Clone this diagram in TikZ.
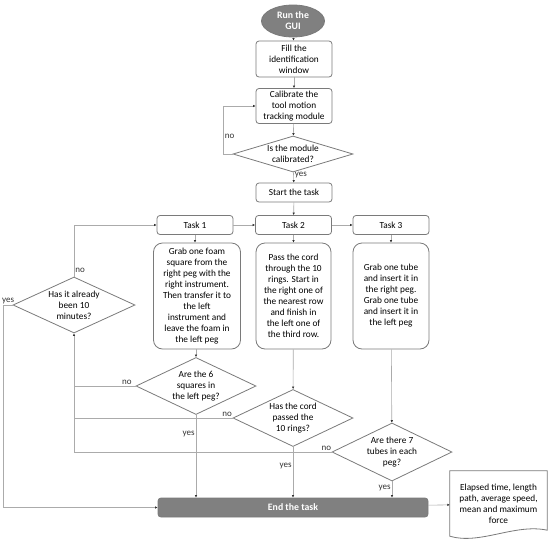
\documentclass[tikz,border=0pt]{standalone}
\usepackage{fontspec}
\setmainfont{Carlito}
\usetikzlibrary{shapes.geometric,arrows.meta}
\definecolor{edgegray}{HTML}{7A7A7A}
\definecolor{linegray}{HTML}{ABABAB}
\definecolor{darkbox}{HTML}{808080}
\tikzset{
	base/.style = {draw=edgegray, line width=0.8pt, font=\fontsize{9.3}{11}\selectfont, align=center, inner sep=1pt},
	stepbox/.style = {base, rounded corners=3pt, minimum width=76pt, minimum height=#1},
	taskbox/.style = {base, rounded corners=9pt, minimum height=106pt},
	darkbox/.style = {base, fill=darkbox, text=white, font=\fontsize{9.8}{11}\selectfont\bfseries},
	decision/.style = {base, diamond, minimum width=120pt, minimum height=#1, inner sep=0pt},
	dtext/.style = {font=\fontsize{9.3}{11}\selectfont, align=center},
	line/.style = {draw=linegray, line width=0.6pt},
	arr/.style = {line, -{Latex[length=2.5pt,width=2.5pt,color=black!80]}},
	lbl/.style = {font=\fontsize{9}{10}\selectfont, text=black!80, inner sep=1pt}
}
\begin{document}
\begin{tikzpicture}[x=1pt, y=-1pt]
	\useasboundingbox (0,0) rectangle (550,547);
	\node[darkbox, ellipse, minimum width=63pt, minimum height=32pt, inner sep=0pt] (gui) at (293,21) {Run the\\GUI};
	\node[stepbox=36pt] (fill) at (294,59) {Fill the\\identification\\window};
	\node[stepbox=35pt] (calib) at (294,106) {Calibrate the\\tool motion\\tracking module};
	\node[decision=36pt, label={[dtext]center:Is the module\\calibrated?}] (calq) at (293,154) {};
	\node[stepbox=19pt] (start) at (294,192.5) {Start the task};
	\node[stepbox=19pt] (t1) at (195,225) {Task 1};
	\node[stepbox=19pt] (t2) at (293.5,225) {Task 2};
	\node[stepbox=19pt] (t3) at (391,225) {Task 3};
	\node[taskbox, minimum width=87pt] (b1) at (197,296) {Grab one foam\\square from the\\right peg with the\\right instrument.\\Then transfer it to\\the left\\instrument and\\leave the foam in\\the left peg};
	\node[taskbox, minimum width=75pt] (b2) at (293.5,296) {Pass the cord\\through the 10\\rings. Start in\\the right one of\\the nearest row\\and finish in\\the left one of\\the third row.};
	\node[taskbox, minimum width=76pt] (b3) at (391,296) {Grab one tube\\and insert it in\\the right peg.\\Grab one tube\\and insert it in\\the left peg};
	\node[decision=57pt, label={[dtext]center:Are the 6\\squares in\\the left peg?}] (d1) at (196,386) {};
	\node[decision=57pt, label={[dtext]center:Has the cord\\passed the\\10 rings?}] (d2) at (293,418) {};
	\node[decision=58pt, label={[dtext]center:Are there 7\\tubes in each\\peg?}] (d3) at (392,452) {};
	\node[decision=56pt, minimum width=122pt, label={[dtext]center:Has it already\\been 10\\minutes?}] (dt) at (74,305) {};
	\node[darkbox, rounded corners=3pt, minimum width=270pt, minimum height=19pt] (endt) at (293,507.5) {End the task};
	\node[dtext, minimum width=97pt, minimum height=66pt] (out) at (498.5,504) {Elapsed time, length\\path, average speed,\\mean and maximum\\force};
	\draw[base] (out.north west) -- (out.north east) -- ([yshift=7pt]out.south east)
		.. controls +(-32,-7) and +(30,9) .. ([yshift=1pt]out.south west) -- cycle;

	\draw[arr] (gui) -- (fill);
	\draw[arr] (fill) -- (calib);
	\draw[arr] (calib) -- (calq);
	\draw[arr] (calq) -- node[lbl, right, pos=0.3] {yes} (start);
	\draw[arr] (calq.west) -- ++(-9,0) |- node[lbl, right, pos=0.18] {no} (calib.west);
	\draw[arr] (start) -- (t2);
	\draw[arr] (t1) -- (t2);
	\draw[arr] (t2) -- (t3);
	\draw[arr] (t1) -- (b1.north -| t1);
	\draw[arr] (t2) -- (b2);
	\draw[arr] (t3) -- (b3);
	\draw[arr] (b1.south -| d1.north) -- (d1.north);
	\draw[arr] (b2) -- (d2);
	\draw[arr] (b3) -- (d3);
	\draw[arr] (d1.south) -- node[lbl, left, pos=0.23] {yes} (d1.south |- endt.north);
	\draw[arr] (d2.south) -- node[lbl, left, pos=0.37] {yes} (d2.south |- endt.north);
	\draw[arr] (d3.south) -- node[lbl, left, pos=0.4] {yes} (d3.south |- endt.north);
	\draw[line] (d1.west) -- node[lbl, above, pos=0.14] {no} (d1.west -| dt.south);
	\draw[line] (d2.west) -- node[lbl, above, pos=0.035] {no} (d2.west -| dt.south);
	\draw[arr] (d3.west) -- node[lbl, above, pos=0.02] {no} (d3.west -| dt.south) -- (dt.south);
	\draw[arr] (dt.north) |- node[lbl, right, pos=0.06] {no} (t1.west);
	\draw[arr] (dt.west) -- node[lbl, above] {yes} ++(-9,0) |- (endt.west);
	\draw[arr] (endt) -- (out);
\end{tikzpicture}
\end{document}
